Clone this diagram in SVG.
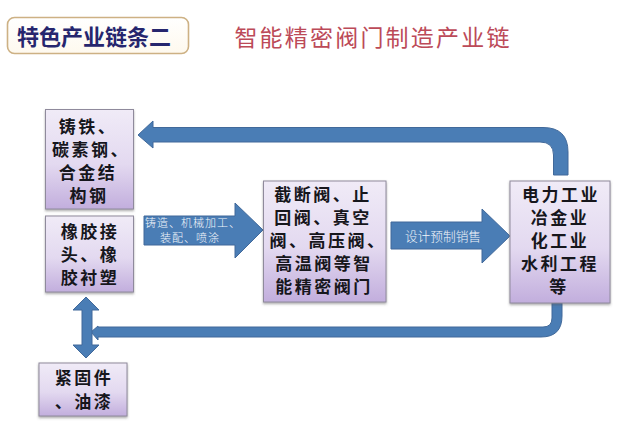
<svg xmlns="http://www.w3.org/2000/svg" width="640" height="429" viewBox="0 0 640 429">
<defs>
<linearGradient id="boxFill" x1="0" y1="0" x2="0" y2="1"><stop offset="0" stop-color="#f0ebf7"/><stop offset="0.55" stop-color="#e3d9f0"/><stop offset="1" stop-color="#c2aedd"/></linearGradient>
<linearGradient id="titleFill" x1="0" y1="0" x2="0" y2="1"><stop offset="0" stop-color="#ffffff"/><stop offset="1" stop-color="#fef9ee"/></linearGradient>
<filter id="soft" x="-10%" y="-10%" width="120%" height="125%"><feDropShadow dx="0" dy="1.5" stdDeviation="1.2" flood-color="#555" flood-opacity="0.5"/></filter>
</defs>
<style>
.box{fill:url(#boxFill);stroke:#8f8a9c;stroke-width:1;filter:url(#soft)}
.t{font-family:"Noto Sans CJK SC",sans-serif;font-size:17px;font-weight:700;fill:#16161c;text-anchor:middle;letter-spacing:2.5px}
.a{fill:#4a7db5;stroke:#41699a;stroke-width:1}
.l{font-family:"Noto Sans CJK SC",sans-serif;fill:#f2f6fb;text-anchor:middle;font-weight:300}
</style>
<rect width="640" height="429" fill="#ffffff"/>
<g id="title-box">
<rect x="7.500" y="17.500" width="181" height="36" rx="7" fill="url(#titleFill)" stroke="#cdb184" stroke-width="1.600"/>
<text x="94" y="45" font-family="'Noto Sans CJK SC',sans-serif" font-size="22" font-weight="700" fill="#26266e" text-anchor="middle">特色产业链条二</text>
</g>
<text id="heading" x="373" y="46" font-family="'Noto Sans CJK SC',sans-serif" font-size="23" font-weight="400" fill="#bc4a58" text-anchor="middle" letter-spacing="2.200">智能精密阀门制造产业链</text>
<g id="connectors">
<path class="a" d="M568 175V152Q568 127.500 543 127.500H153V121L138 135L153 148V142H540Q553.500 142 553.500 155V175Z"/>
<path class="a" d="M562 303V316Q562 337 541 337H98V340L91 332L98 326V327H543Q552 327 552 318V303Z"/>
<path class="a" d="M86 297L99 310H92V345H99L86 358L73 345H82V310H73Z"/>
<path class="a" d="M144 216H235V203L263 230L235 258V245H144Z"/>
<path class="a" d="M391 222H482V209L510 236L482 263V249H391Z"/>
</g>
<g id="node-iron"><rect class="box" x="45.500" y="109.500" width="88" height="99.500"/>
<text class="t" x="88" y="133">铸铁、</text><text class="t" x="91" y="156">碳素钢、</text><text class="t" x="88" y="179">合金结</text><text class="t" x="89" y="202">构钢</text></g>
<g id="node-rubber"><rect class="box" x="45.500" y="216" width="88" height="76"/>
<text class="t" x="90" y="238">橡胶接</text><text class="t" x="90" y="261">头、橡</text><text class="t" x="90" y="284">胶衬塑</text></g>
<g id="node-valves"><rect class="box" x="263.500" y="181" width="122.500" height="121"/>
<text class="t" x="323" y="201">截断阀、止</text><text class="t" x="323" y="224">回阀、真空</text><text class="t" x="328" y="247">阀、高压阀、</text><text class="t" x="324" y="270">高温阀等智</text><text class="t" x="324" y="293">能精密阀门</text></g>
<g id="node-industry"><rect class="box" x="510" y="181" width="100" height="122"/>
<text class="t" x="561" y="201">电力工业</text><text class="t" x="560" y="224">冶金业</text><text class="t" x="560" y="247">化工业</text><text class="t" x="560" y="270">水利工程</text><text class="t" x="559" y="293">等</text></g>
<g id="node-fastener"><rect class="box" x="39" y="363" width="88" height="53"/>
<text class="t" x="84" y="384">紧固件</text><text class="t" x="84" y="408">、油漆</text></g>
<text class="l" x="193" y="227" font-size="11" letter-spacing="1">铸造、机械加工、</text>
<text class="l" x="190" y="242" font-size="11" letter-spacing="1">装配、喷涂</text>
<text class="l" x="443" y="241" font-size="12.700">设计预制销售</text>
</svg>
